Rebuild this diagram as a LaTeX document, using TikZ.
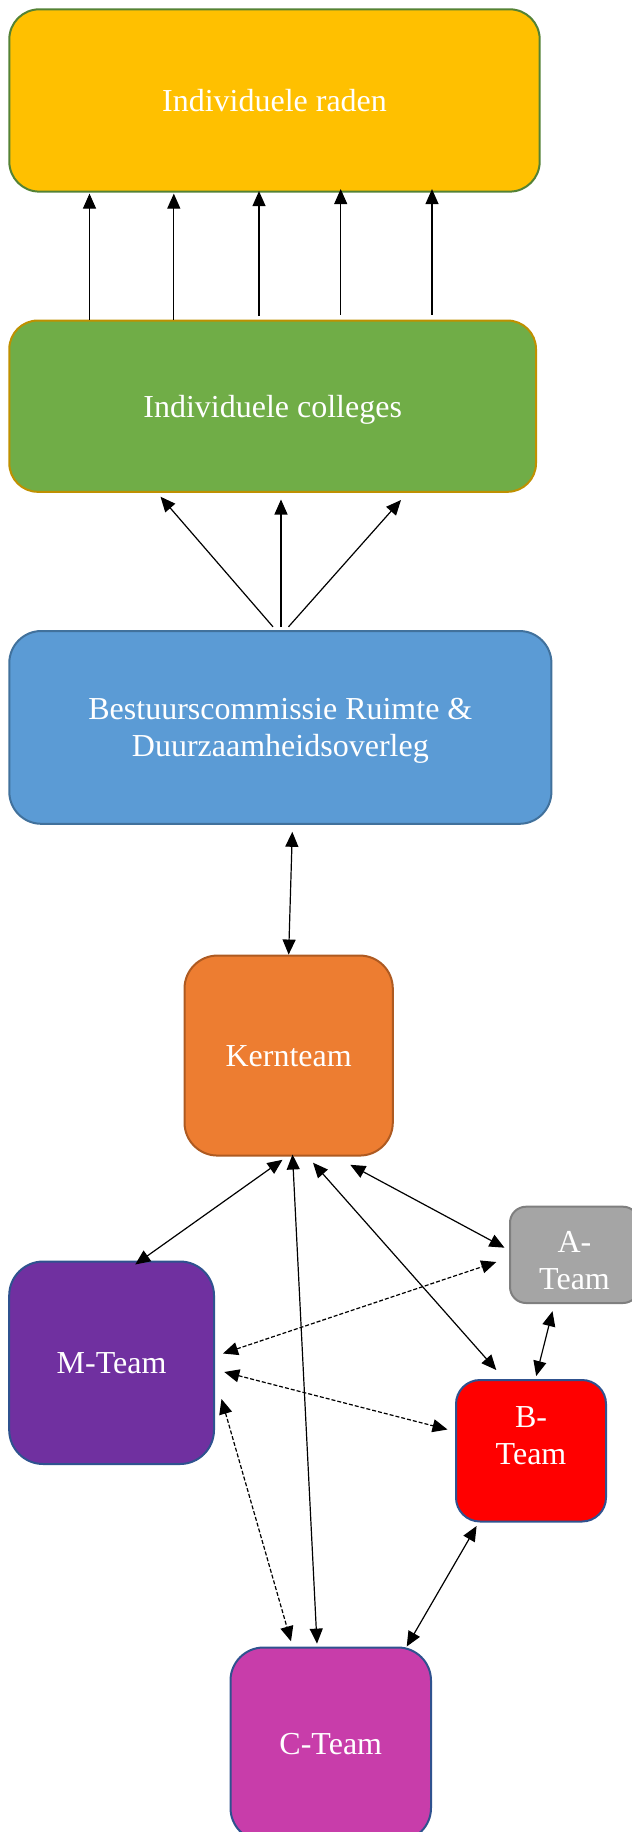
\documentclass[tikz,border=0pt]{standalone}
\usepackage{fontspec}
\setmainfont{Liberation Serif}
\usetikzlibrary{arrows.meta}
\definecolor{radenfill}{HTML}{FFC000}
\definecolor{radenline}{HTML}{548235}
\definecolor{collfill}{HTML}{70AD47}
\definecolor{collline}{HTML}{BF9000}
\definecolor{bestfill}{HTML}{5B9BD5}
\definecolor{bestline}{HTML}{41719C}
\definecolor{kernfill}{HTML}{ED7D31}
\definecolor{kernline}{HTML}{AE5A21}
\definecolor{afill}{HTML}{A5A5A5}
\definecolor{aline}{HTML}{7F7F7F}
\definecolor{mfill}{HTML}{7030A0}
\definecolor{bfill}{HTML}{FF0000}
\definecolor{cfill}{HTML}{C83DAA}
\definecolor{teamline}{HTML}{2F528F}
\begin{document}
\begin{tikzpicture}[x=1pt,y=-1pt,
  txt/.style={text=white, align=center, text depth=0pt, font=\fontsize{32}{37}\selectfont},
  box/.style={draw, line width=2pt, txt, inner sep=0pt},
  tip/.tip={Triangle[length=15pt,width=13pt]},
  arr/.style={line width=1.2pt, -tip},
  dbl/.style={line width=1.2pt, tip-tip},
  dsh/.style={line width=1.2pt, tip-tip, dash pattern=on 4pt off 2pt}]
\useasboundingbox (0,0) rectangle (632,1832);
\clip (0,0) rectangle (632,1832);

% boxes
\node[box, fill=radenfill, draw=radenline, minimum width=530.4pt, minimum height=182.3pt, rounded corners=30pt]
  (raden) at (274.5,100.45) {Individuele raden};
\node[box, fill=collfill, draw=collline, minimum width=526.7pt, minimum height=171.3pt, rounded corners=28.5pt]
  (colleges) at (272.65,406.15) {Individuele colleges};
\node[box, fill=bestfill, draw=bestline, minimum width=542.1pt, minimum height=192.8pt, rounded corners=32pt]
  (bestuur) at (280.35,727.4) {Bestuurscommissie Ruimte \&\\Duurzaamheidsoverleg};
\node[box, fill=kernfill, draw=kernline, minimum width=208.3pt, minimum height=200pt, rounded corners=33pt]
  (kern) at (288.65,1055.55) {Kernteam};
\node[box, fill=afill, draw=aline, minimum width=129pt, minimum height=96.3pt, rounded corners=16pt,
  label={[txt, yshift=-6pt]center:A-\\Team}]
  (ateam) at (574.5,1254.85) {};
\node[box, fill=mfill, draw=teamline, minimum width=204.8pt, minimum height=202.5pt, rounded corners=34pt]
  (mteam) at (111.6,1362.75) {M-Team};
\node[box, fill=bfill, draw=teamline, minimum width=150pt, minimum height=141.5pt, rounded corners=24pt,
  label={[txt, yshift=15pt]center:B-\\Team}]
  (bteam) at (531,1450.75) {};
\node[box, fill=cfill, draw=teamline, minimum width=200.5pt, minimum height=193.5pt, rounded corners=33pt]
  (cteam) at (330.75,1744.25) {C-Team};

% colleges -> raden
\coordinate (x1) at (89.5,0);
\coordinate (x2) at (173.8,0);
\coordinate (x3) at (259,0);
\coordinate (x4) at (340.7,0);
\coordinate (x5) at (432,0);
\draw[arr] (x1 |- colleges.north) -- ([yshift=-1pt]x1 |- raden.south);
\draw[arr] (x2 |- colleges.north) -- ([yshift=-1pt]x2 |- raden.south);
\draw[arr] ([yshift=3.5pt]x3 |- colleges.north) -- ([yshift=1.5pt]x3 |- raden.south);
\draw[arr] ([yshift=4.8pt]x4 |- colleges.north) -- ([yshift=3.5pt]x4 |- raden.south);
\draw[arr] ([yshift=4.8pt]x5 |- colleges.north) -- ([yshift=3.5pt]x5 |- raden.south);

% bestuur -> colleges
\coordinate (bc1) at (273,626.8);
\coordinate (bc2) at (281,626.8);
\coordinate (bc3) at (288.5,626.8);
\coordinate (cb1) at (160.5,496.7);
\coordinate (cb2) at (281,499.5);
\coordinate (cb3) at (401,500);
\draw[arr] (bc1) -- (cb1);
\draw[arr] (bc2) -- (cb2);
\draw[arr] (bc3) -- (cb3);

% bestuur <-> kern
\coordinate (bk) at (292.3,831.8);
\draw[dbl] (bk) -- (kern.north);

% kern connections
\coordinate (kM) at (282.5,1159.8);
\coordinate (Mk) at (135.2,1264.5);
\coordinate (kC) at (292.5,1154.5);
\coordinate (Ck) at (317,1643.6);
\coordinate (kB) at (313,1162.7);
\coordinate (Bk) at (496.3,1370);
\coordinate (kA) at (350.3,1164.8);
\coordinate (Ak) at (504.5,1247.7);
\draw[dbl] (kM) -- (Mk);
\draw[dbl] (kC) -- (Ck);
\draw[dbl] (kB) -- (Bk);
\draw[dbl] (kA) -- (Ak);

% A <-> B
\coordinate (AB) at (552.5,1311.2);
\coordinate (BA) at (536.2,1376);
\draw[dbl] (AB) -- (BA);

% dashed M connections
\coordinate (MA) at (223,1353.5);
\coordinate (AM) at (496.3,1262);
\coordinate (MB) at (224.3,1372);
\coordinate (BM) at (447.5,1429.5);
\coordinate (MC) at (221.5,1399);
\coordinate (CM) at (291,1641.3);
\draw[dsh] (MA) -- (AM);
\draw[dsh] (MB) -- (BM);
\draw[dsh] (MC) -- (CM);

% B <-> C
\coordinate (BC) at (476.6,1526);
\coordinate (CB) at (406.7,1646.5);
\draw[dbl] (BC) -- (CB);
\end{tikzpicture}
\end{document}
